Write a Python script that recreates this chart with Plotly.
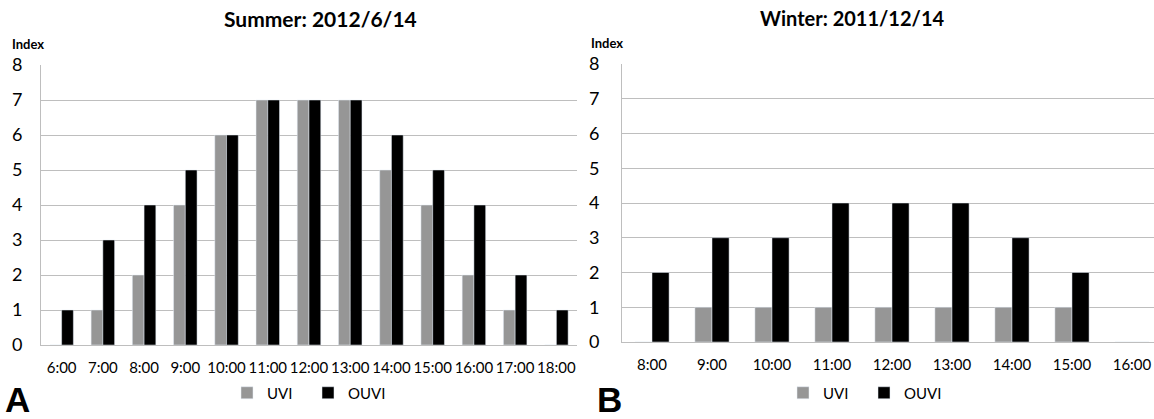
import plotly.graph_objects as go

# ---- data ----
summer_hours = ["6:00", "7:00", "8:00", "9:00", "10:00", "11:00", "12:00",
                "13:00", "14:00", "15:00", "16:00", "17:00", "18:00"]
summer_uvi = [0, 1, 2, 4, 6, 7, 7, 7, 5, 4, 2, 1, 0]
summer_ouvi = [1, 3, 4, 5, 6, 7, 7, 7, 6, 5, 4, 2, 1]

winter_hours = ["8:00", "9:00", "10:00", "11:00", "12:00", "13:00", "14:00",
                "15:00", "16:00"]
winter_uvi = [0, 1, 1, 1, 1, 1, 1, 1, 0]
winter_ouvi = [2, 3, 3, 4, 4, 4, 3, 2, 0]

y_ticks = [0, 1, 2, 3, 4, 5, 6, 7, 8]

W, H = 1154, 419
FONT = "Lato"
GRAY = "#969696"
GRID = "#BEBEBE"

def px(x):
    return x / W

def py(y):
    return (H - y) / H

fig = go.Figure()
fig.add_trace(go.Bar(x=summer_hours, y=summer_uvi, name="UVI", marker_color=GRAY,
                     xaxis="x", yaxis="y", legend="legend"))
fig.add_trace(go.Bar(x=summer_hours, y=summer_ouvi, name="OUVI", marker_color="#000000",
                     xaxis="x", yaxis="y", legend="legend"))
fig.add_trace(go.Bar(x=winter_hours, y=winter_uvi, name="UVI", marker_color=GRAY,
                     xaxis="x2", yaxis="y2", legend="legend2"))
fig.add_trace(go.Bar(x=winter_hours, y=winter_ouvi, name="OUVI", marker_color="#000000",
                     xaxis="x2", yaxis="y2", legend="legend2"))

xcommon = dict(type="category", showgrid=False, showline=True, linecolor=GRID,
               linewidth=1, ticks="", tickfont=dict(family=FONT, size=15, color="#000"),
               ticklabelstandoff=9, fixedrange=True, automargin=False)
ycommon = dict(range=[0, 8], tickvals=y_ticks, showgrid=True, gridcolor=GRID,
               gridwidth=1, showline=True, linecolor=GRID, zeroline=False, ticks="",
               tickfont=dict(family=FONT, size=18, color="#000"), fixedrange=True,
               automargin=False)

legend_common = dict(orientation="h", yanchor="middle", xanchor="center",
                     font=dict(family=FONT, size=15, color="#000"), itemwidth=30,
                     entrywidth=36, entrywidthmode="pixels",
                     bgcolor="rgba(0,0,0,0)", tracegroupgap=0)

fig.update_layout(
    width=W, height=H, autosize=False,
    margin=dict(l=0, r=0, t=0, b=0, autoexpand=False),
    paper_bgcolor="white", plot_bgcolor="white",
    barmode="group", bargap=0.43, bargroupgap=0,
    xaxis=dict(domain=[px(41), px(577)], anchor="y", range=[-0.5, 12.5], **xcommon),
    yaxis=dict(domain=[py(345), py(65)], anchor="x", ticklabelstandoff=14, **ycommon),
    xaxis2=dict(domain=[px(622), 1.0], anchor="y2", range=[-0.5, 8.367], **xcommon),
    yaxis2=dict(domain=[py(342), py(64)], anchor="x2", ticklabelstandoff=18, **ycommon),
    legend=dict(x=px(308), y=py(393), **legend_common),
    legend2=dict(x=px(864), y=py(393), **legend_common),
    showlegend=True,
)

annotations = [
    dict(text="<b>Summer: 2012/6/14</b>", x=px(320), y=py(18), xanchor="center",
         yanchor="middle", font=dict(family=FONT, size=21, color="#000")),
    dict(text="<b>Winter: 2011/12/14</b>", x=px(852), y=py(18), xanchor="center",
         yanchor="middle", font=dict(family=FONT, size=20, color="#000")),
    dict(text="<b>Index</b>", x=px(10), y=py(44), xanchor="left", yanchor="middle",
         font=dict(family=FONT, size=13, color="#000")),
    dict(text="<b>Index</b>", x=px(589), y=py(43), xanchor="left", yanchor="middle",
         font=dict(family=FONT, size=13, color="#000")),
    dict(text="<b>A</b>", x=px(3), y=py(399), xanchor="left", yanchor="middle",
         font=dict(family="Liberation Sans", size=35, color="#000")),
    dict(text="<b>B</b>", x=px(595), y=py(399), xanchor="left", yanchor="middle",
         font=dict(family="Liberation Sans", size=35, color="#000")),
]
for a in annotations:
    a.update(xref="paper", yref="paper", showarrow=False)
fig.update_layout(annotations=annotations)

fig.write_html("out.html", config={"displayModeBar": False},
               post_script="document.body.style.margin='0';")
